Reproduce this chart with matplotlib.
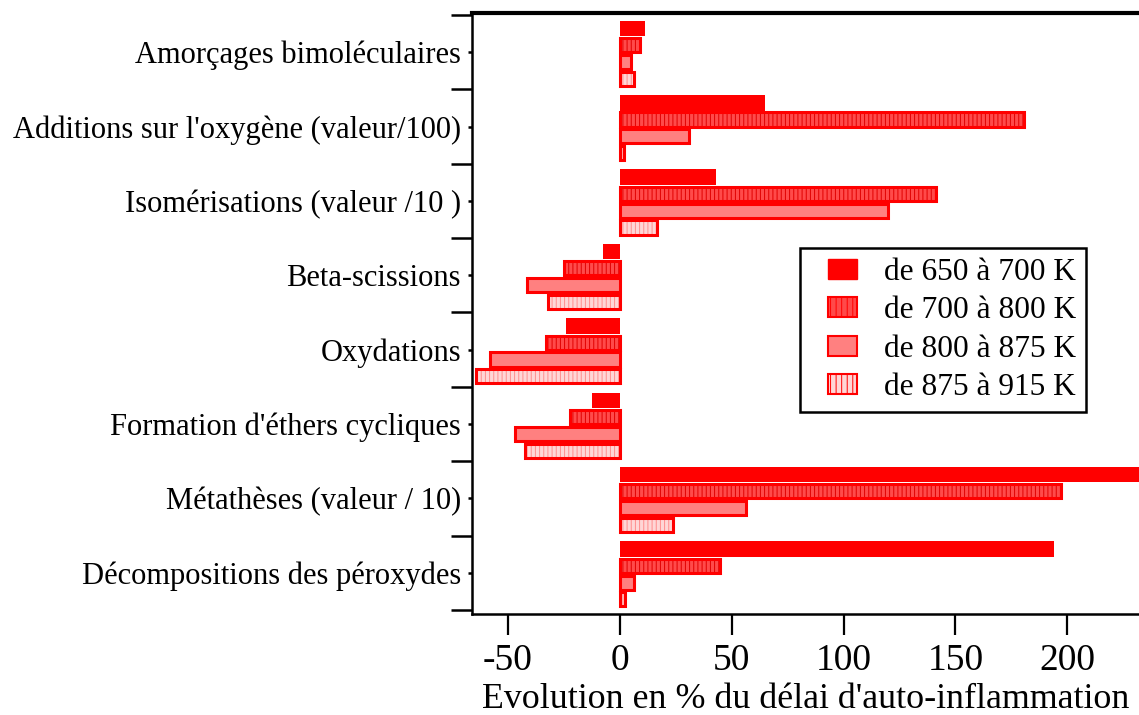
import numpy as np
import matplotlib
matplotlib.use("Agg")
import matplotlib.pyplot as plt
from matplotlib.patches import Patch, Rectangle
from matplotlib.legend_handler import HandlerPatch

plt.rcParams['font.family'] = ['Liberation Serif', 'DejaVu Serif']
plt.rcParams['hatch.linewidth'] = 0.7
plt.rcParams['axes.unicode_minus'] = False

categories = ["Amorçages bimoléculaires",
              "Additions sur l'oxygène (valeur/100)",
              "Isomérisations (valeur /10 )",
              "Beta-scissions",
              "Oxydations",
              "Formation d'éthers cycliques",
              "Métathèses (valeur / 10)",
              "Décompositions des péroxydes"]
series_labels = ["de 650 à 700 K", "de 700 à 800 K", "de 800 à 875 K", "de 875 à 915 K"]

# evolution (%) per category, for each temperature range
t650_700 = [11.5, 65, 43, -7.5, -24, -12.5, 245, 194]
t700_800 = [9, 180.5, 141.5, -25, -33, -22, 197, 45]
t800_875 = [5, 31, 120, -41.5, -58, -47, 56.5, 6.3]
t875_915 = [6.4, 2, 16.5, -32, -64, -42.5, 24, 2.4]

RED = '#ff0000'
series = [t650_700, t700_800, t800_875, t875_915]
faces = [RED, '#ff4a4a', '#ff8080', '#ffd6d6']
hatch_col = [None, '#e00000', None, '#ff8c8c']
hatches = [None, '||||', None, '||||']

fig = plt.figure(figsize=(11.39, 7.15), dpi=100)
ax = fig.add_axes([0.4144, 0.1413, 0.5856, 0.8405])

idx = np.arange(len(categories))
offsets = [0.181, 0.405, 0.632, 0.858]
h = 0.19
for k, vals in enumerate(series):
    y = idx + offsets[k]
    if k == 0:
        ax.barh(y, vals, height=h + 0.02, color=RED, edgecolor='none', zorder=3)
        continue
    if hatches[k]:
        ax.barh(y, vals, height=h, color=faces[k], edgecolor=hatch_col[k],
                linewidth=0, hatch=hatches[k], zorder=3)
    else:
        ax.barh(y, vals, height=h, color=faces[k], edgecolor='none', zorder=3)
    ax.barh(y, vals, height=h, fill=False, edgecolor=RED, linewidth=2.2, zorder=4)

ax.set_xlim(-66, 232)
ax.set_ylim(8.054, -0.027)

ax.set_xticks([-50, 0, 50, 100, 150, 200])
ax.tick_params(axis='x', direction='out', length=15, width=1.6, labelsize=27, pad=6)
ax.set_yticks(np.arange(0, 9))
ax.set_yticklabels([])
ax.set_yticks(idx + 0.5, minor=True)
ax.set_yticklabels(categories, minor=True)
ax.tick_params(axis='y', which='major', direction='out', length=15, width=1.8)
ax.tick_params(axis='y', which='minor', direction='out', length=3, width=1.8,
               labelsize=22, pad=5)
ax.set_xlabel("Evolution en % du délai d'auto-inflammation", fontsize=25.8, labelpad=4)

for s in ['left', 'bottom']:
    ax.spines[s].set_linewidth(1.8)
ax.spines['top'].set_linewidth(3)
ax.spines['right'].set_visible(False)


def small_rect(legend, orig_handle, xdescent, ydescent, width, height, fontsize):
    return Rectangle((-xdescent + 0.38 * width, -ydescent), 0.62 * width, height)


handles = []
for k in range(4):
    if k == 0:
        handles.append(Patch(facecolor=RED, edgecolor=RED))
    elif hatches[k]:
        handles.append(Patch(facecolor=faces[k], edgecolor=RED, hatch='|||', linewidth=1.5))
    else:
        handles.append(Patch(facecolor=faces[k], edgecolor=RED, linewidth=1.5))
leg = ax.legend(handles, series_labels, loc='upper left',
                bbox_to_anchor=(800 / 1139, 1 - 248 / 715), bbox_transform=fig.transFigure,
                fontsize=22.6, frameon=True, fancybox=False, framealpha=1,
                handlelength=1.5, handleheight=0.6, handletextpad=0.85,
                borderpad=0.32, labelspacing=0.3, borderaxespad=0,
                handler_map={Patch: HandlerPatch(patch_func=small_rect)})
leg.get_frame().set_edgecolor('black')
leg.get_frame().set_linewidth(1.8)

fig.savefig("out.png", dpi=100)
